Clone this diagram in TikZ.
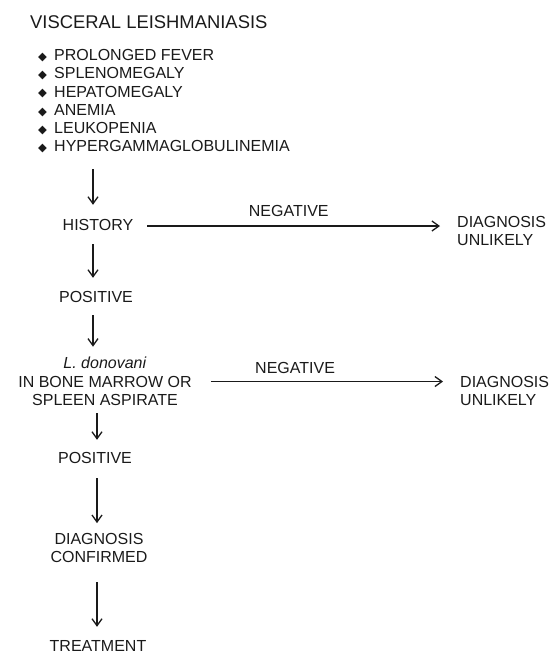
\documentclass[tikz,border=0pt]{standalone}
\usepackage{fontspec}
\setmainfont{Liberation Sans}
\newfontfamily\symfont{DejaVu Sans}
\usetikzlibrary{arrows.meta}
\definecolor{ink}{HTML}{1A1A1A}
\newcommand{\bulmark}{\makebox[16pt][l]{\raisebox{0.3pt}{\symfont\fontsize{11.5}{11.5}\selectfont ◆}}}
\tikzset{
  txt/.style={inner sep=0pt, text=ink, font=\fontsize{16}{18}\selectfont, text height=11.5pt, text depth=0pt},
  mtxt/.style={inner sep=0pt, text=ink, font=\fontsize{16}{18.5}\selectfont},
  arr/.style={draw=ink, line width=1.2pt, -{Straight Barb[length=7pt,width=10pt,line width=1.3pt]}},
  thickarr/.style={arr, line width=1.8pt}
}
\begin{document}
\begin{tikzpicture}[x=1pt,y=-1pt]
\useasboundingbox (0,0) rectangle (559,654);
\node[inner sep=0pt, text=ink, font=\fontsize{18.4}{20}\selectfont, anchor=base west] (title) at (30,28.5) {VISCERAL LEISHMANIASIS};
\node[inner sep=0pt, text=ink, font=\fontsize{16}{18.2}\selectfont, align=left, anchor=base west] (list) at (38,151.75)
 {\bulmark PROLONGED FEVER\\ \bulmark SPLENOMEGALY\\ \bulmark HEPATOMEGALY\\ \bulmark ANEMIA\\ \bulmark LEUKOPENIA\\ \bulmark HYPERGAMMAGLOBULINEMIA};
\node[txt, anchor=base] (hist) at (98,230.75) {HISTORY};
\node[txt, anchor=base] (pos1) at (96,302.75) {POSITIVE};
\node[mtxt, align=center, anchor=base] (bone) at (105,405.75) {\textit{L. donovani}\\IN BONE MARROW OR\\SPLEEN ASPIRATE};
\node[txt, anchor=base] (pos2) at (95,463.75) {POSITIVE};
\node[inner sep=0pt, text=ink, font=\fontsize{16}{18}\selectfont, align=center, anchor=base] (conf) at (99,562.75) {DIAGNOSIS\\CONFIRMED};
\node[txt, anchor=base] (treat) at (98,651.5) {TREATMENT};
\node[inner sep=0pt, text=ink, font=\fontsize{16}{17.5}\selectfont, align=left, anchor=base west] (un1) at (457,245.25) {DIAGNOSIS\\UNLIKELY};
\node[inner sep=0pt, text=ink, font=\fontsize{16}{17.5}\selectfont, align=left, anchor=base west] (un2) at (460,405.25) {DIAGNOSIS\\UNLIKELY};
% vertical arrows
\draw[arr, shorten <=16pt, shorten >=14.25pt] ([xshift=-5pt]hist.north |- list.south) -- ([xshift=-5pt]hist.north);
\draw[arr, shorten <=13.25pt, shorten >=13.25pt] ([xshift=-5pt]hist.south) -- ([xshift=-5pt]hist.south |- pos1.north);
\draw[arr, shorten <=12.25pt, shorten >=10.25pt] ([xshift=-5pt]hist.south |- pos1.south) -- ([xshift=-5pt]hist.south |- bone.north);
\draw[thickarr, shorten <=7.25pt, shorten >=12.25pt] ([xshift=-1pt]hist.south |- bone.south) -- ([xshift=-1pt]hist.south |- pos2.north);
\draw[arr, shorten <=14.25pt, shorten >=10.25pt] ([xshift=-1pt]hist.south |- pos2.south) -- ([xshift=-1pt]hist.south |- conf.north);
\draw[arr, shorten <=19.25pt, shorten >=13pt] ([xshift=-1pt]hist.south |- conf.south) -- ([xshift=-1pt]hist.south |- treat.north);
% horizontal arrows
\draw[arr, shorten <=14pt, shorten >=17pt] ([yshift=-1pt]hist.east) -- node[pos=0.48, above=9pt, txt] {NEGATIVE} ([yshift=-1pt]hist.east -| un1.west);
\draw[arr, shorten <=19pt, shorten >=17pt] (bone.east) -- node[pos=0.385, above=7pt, txt] {NEGATIVE} (bone.east -| un2.west);
\end{tikzpicture}
\end{document}
